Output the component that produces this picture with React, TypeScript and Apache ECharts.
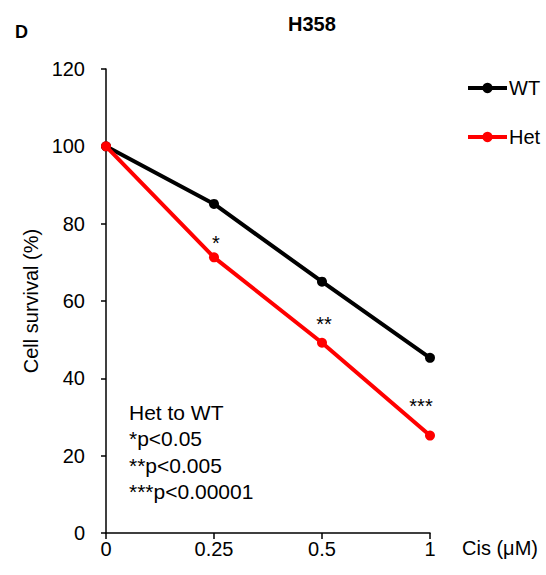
import React, { useEffect, useRef } from "react";
import * as echarts from "echarts";

const categories = ["0", "0.25", "0.5", "1"];
const wtValues = [100, 85.1, 65.0, 45.3];
const hetValues = [100, 71.3, 49.2, 25.2];
const hetStars = ["", "*", "**", "***"];
const yTicks = { min: 0, max: 120, interval: 20 };
const noteLines = ["Het to WT", "*p<0.05", "**p<0.005", "***p<0.00001"];

const FONT = "'Liberation Sans', Arial, sans-serif";
const starOffsets = [
  [0, 0],
  [2, -14],
  [2, -19],
  [-9, -30],
];

export default function App() {
  const ref = useRef<HTMLDivElement>(null);
  useEffect(() => {
    if (!ref.current) return;
    const chart = echarts.init(ref.current, null, { renderer: "svg" });
    chart.setOption({
      animation: false,
      textStyle: { fontFamily: FONT, color: "#000" },
      title: [
        { text: "D", left: 10, top: 18, textStyle: { fontSize: 18, fontWeight: "bold", color: "#000", fontFamily: FONT } },
        { text: "H358", left: 283, top: 9, textStyle: { fontSize: 20, fontWeight: "bold", color: "#000", fontFamily: FONT } },
      ],
      legend: {
        orient: "vertical",
        left: 461,
        top: 73,
        itemWidth: 39,
        itemHeight: 13,
        itemGap: 29,
        lineStyle: { width: 4 },
        textStyle: { fontSize: 20, color: "#000", fontFamily: FONT, padding: [0, 0, 0, -3] },
        data: ["WT", "Het"],
      },
      grid: { left: 106, right: 116, top: 69, bottom: 42 },
      xAxis: {
        type: "category",
        data: categories,
        boundaryGap: false,
        axisLine: { lineStyle: { color: "#000", width: 1.5 } },
        axisTick: { show: true, length: 6, lineStyle: { color: "#000", width: 1.5 } },
        axisLabel: { fontSize: 20, color: "#000", margin: 6, fontFamily: FONT },
        splitLine: { show: false },
      },
      yAxis: {
        type: "value",
        min: yTicks.min,
        max: yTicks.max,
        interval: yTicks.interval,
        name: "Cell survival (%)",
        nameLocation: "middle",
        nameGap: 64,
        nameTextStyle: { fontSize: 20, color: "#000", fontFamily: FONT },
        axisLine: { show: true, lineStyle: { color: "#000", width: 1.5 } },
        axisTick: { show: true, length: 5, lineStyle: { color: "#000", width: 1.5 } },
        axisLabel: { fontSize: 20, color: "#000", margin: 21, fontFamily: FONT },
        splitLine: { show: false },
      },
      series: [
        {
          name: "WT",
          type: "line",
          data: wtValues,
          symbol: "circle",
          symbolSize: 10,
          itemStyle: { color: "#000" },
          lineStyle: { color: "#000", width: 4 },
          z: 2,
        },
        {
          name: "Het",
          type: "line",
          data: hetValues.map((v, i) => ({
            value: v,
            label: {
              show: hetStars[i] !== "",
              formatter: hetStars[i],
              position: "inside",
              offset: starOffsets[i],
              fontSize: 20,
              color: "#000",
              fontFamily: FONT,
            },
          })),
          symbol: "circle",
          symbolSize: 10,
          itemStyle: { color: "#ff0000" },
          lineStyle: { color: "#ff0000", width: 4 },
          z: 3,
        },
      ],
      graphic: [
        {
          type: "text",
          left: 129,
          top: 399,
          style: {
            text: noteLines.join("\n"),
            fontSize: 21,
            lineHeight: 26.5,
            fill: "#000",
            fontFamily: FONT,
          },
        },
        {
          type: "text",
          left: 462,
          top: 538,
          style: { text: "Cis (μM)", fontSize: 20, fill: "#000", fontFamily: FONT },
        },
      ],
    });
    return () => chart.dispose();
  }, []);
  return <div ref={ref} style={{ position: "absolute", left: 0, top: 0, width: 546, height: 575 }} />;
}
